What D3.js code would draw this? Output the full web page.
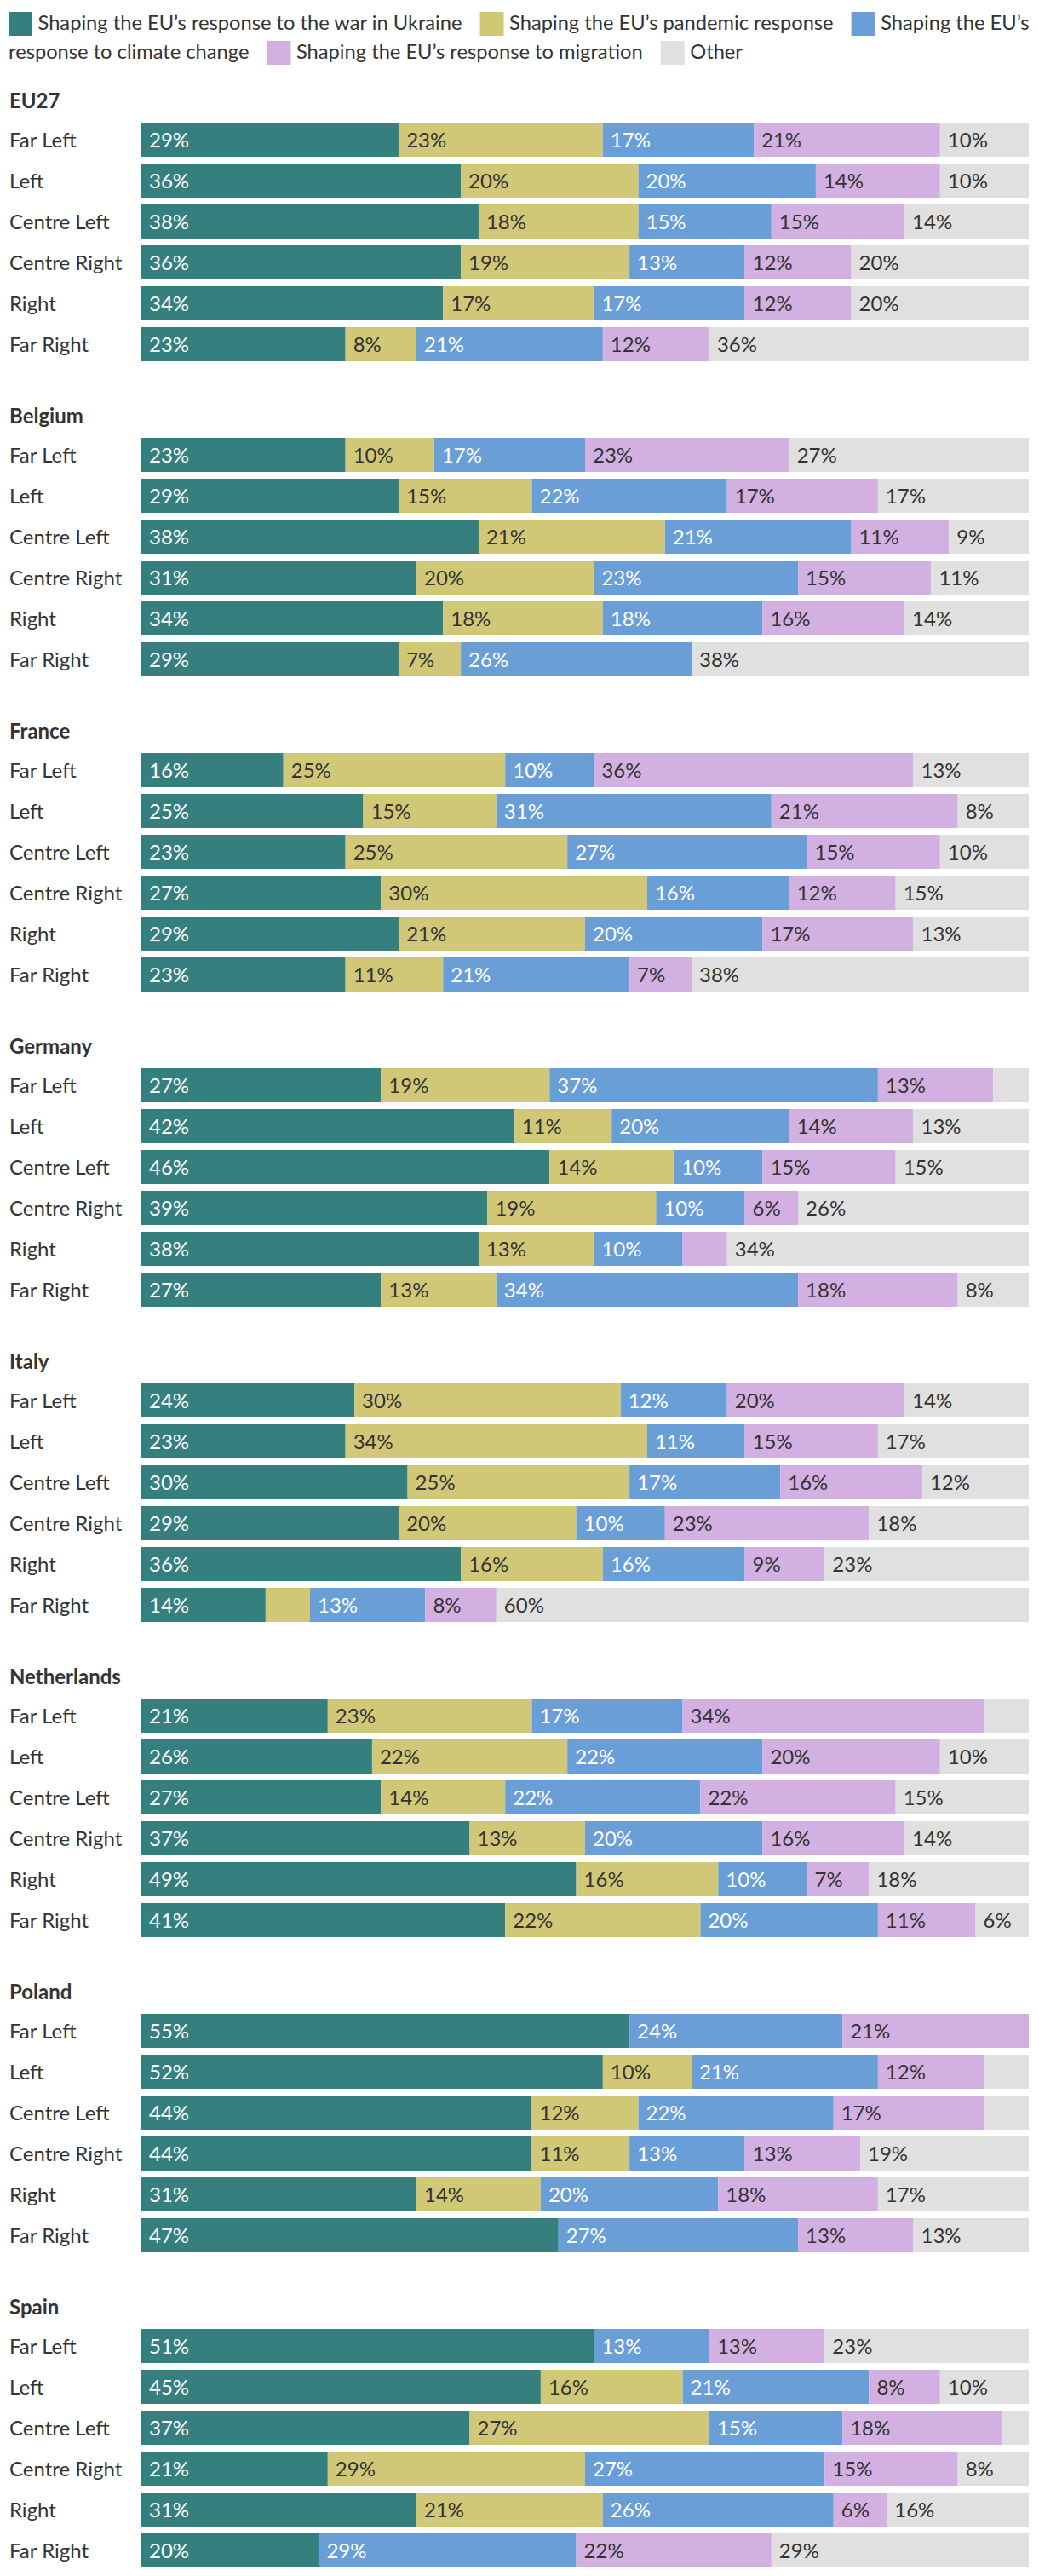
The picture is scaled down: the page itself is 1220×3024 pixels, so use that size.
<!DOCTYPE html>
<html>
<head>
<meta charset="utf-8">
<script src="https://cdn.jsdelivr.net/npm/d3@7"></script>
<style>
  html, body { margin: 0; padding: 0; background: #fff; }
  svg { display: block; font-family: Lato, "Noto Sans", sans-serif; }
</style>
</head>
<body>
<svg id="chart" width="1220" height="3024"></svg>
<script>
// ---------- data ----------
const seriesNames = [
  "Shaping the EU\u2019s response to the war in Ukraine",
  "Shaping the EU\u2019s pandemic response",
  "Shaping the EU\u2019s response to climate change",
  "Shaping the EU\u2019s response to migration",
  "Other"
];
const seriesColors = ["#35807f", "#d1c877", "#6a9ed7", "#d2b0e2", "#e0e0e0"];
const labelColors  = ["#ffffff", "#333333", "#ffffff", "#333333", "#333333"];

const ideologies = ["Far Left", "Left", "Centre Left", "Centre Right", "Right", "Far Right"];
const countries = ["EU27", "Belgium", "France", "Germany", "Italy", "Netherlands", "Poland", "Spain"];

// each row: [Ukraine, pandemic, climate, migration, other] in %
const eu27 = [
  [29, 23, 17, 21, 10],
  [36, 20, 20, 14, 10],
  [38, 18, 15, 15, 14],
  [36, 19, 13, 12, 20],
  [34, 17, 17, 12, 20],
  [23, 8, 21, 12, 36]
];
const belgium = [
  [23, 10, 17, 23, 27],
  [29, 15, 22, 17, 17],
  [38, 21, 21, 11, 9],
  [31, 20, 23, 15, 11],
  [34, 18, 18, 16, 14],
  [29, 7, 26, 0, 38]
];
const france = [
  [16, 25, 10, 36, 13],
  [25, 15, 31, 21, 8],
  [23, 25, 27, 15, 10],
  [27, 30, 16, 12, 15],
  [29, 21, 20, 17, 13],
  [23, 11, 21, 7, 38]
];
const germany = [
  [27, 19, 37, 13, 4],
  [42, 11, 20, 14, 13],
  [46, 14, 10, 15, 15],
  [39, 19, 10, 6, 26],
  [38, 13, 10, 5, 34],
  [27, 13, 34, 18, 8]
];
const italy = [
  [24, 30, 12, 20, 14],
  [23, 34, 11, 15, 17],
  [30, 25, 17, 16, 12],
  [29, 20, 10, 23, 18],
  [36, 16, 16, 9, 23],
  [14, 5, 13, 8, 60]
];
const netherlands = [
  [21, 23, 17, 34, 5],
  [26, 22, 22, 20, 10],
  [27, 14, 22, 22, 15],
  [37, 13, 20, 16, 14],
  [49, 16, 10, 7, 18],
  [41, 22, 20, 11, 6]
];
const poland = [
  [55, 0, 24, 21, 0],
  [52, 10, 21, 12, 5],
  [44, 12, 22, 17, 5],
  [44, 11, 13, 13, 19],
  [31, 14, 20, 18, 17],
  [47, 0, 27, 13, 13]
];
const spain = [
  [51, 0, 13, 13, 23],
  [45, 16, 21, 8, 10],
  [37, 27, 15, 18, 3],
  [21, 29, 27, 15, 8],
  [31, 21, 26, 6, 16],
  [20, 0, 29, 22, 29]
];
const countryData = [eu27, belgium, france, germany, italy, netherlands, poland, spain];

const svg = d3.select("#chart");

// ---------- legend (word-wrapped in SVG) ----------
const LEG_FS = 23.7, LEG_LH = 34, LEG_X0 = 10, LEG_MAX = 1218, SW = 28;
const measurer = svg.append("text").attr("font-size", LEG_FS).attr("x", -5000).attr("y", -100);
const measure = s => { measurer.text(s); return measurer.node().getComputedTextLength(); };
const legend = svg.append("g").attr("class", "legend");
let cx = LEG_X0, line = 0;
const lineTop = l => 14 + l * LEG_LH;
seriesNames.forEach((name, i) => {
  if (cx + SW > LEG_MAX) { line++; cx = LEG_X0; }
  legend.append("rect").attr("x", cx).attr("y", lineTop(line)).attr("width", SW).attr("height", SW).attr("fill", seriesColors[i]);
  cx += SW + 6.5;
  const words = name.split(" ");
  let run = "", runX = cx;
  words.forEach(w => {
    const cand = run ? run + " " + w : w;
    if (run && runX + measure(cand) > LEG_MAX) {
      legend.append("text").attr("x", runX).attr("y", lineTop(line) + 21).attr("font-size", LEG_FS).attr("fill", "#333").text(run);
      line++; runX = LEG_X0; run = w;
    } else run = cand;
  });
  legend.append("text").attr("x", runX).attr("y", lineTop(line) + 21).attr("font-size", LEG_FS).attr("fill", "#333").text(run);
  cx = runX + measure(run) + 21;
});
measurer.remove();

// ---------- chart ----------
const FS = 24;
const x = d3.scaleLinear().domain([0, 100]).range([166, 1208]);
const gy = d3.scaleBand().domain(countries).range([144, 144 + countries.length * 370]).padding(0);
const ry = d3.scaleBand().domain(ideologies).range([0, 280]).paddingInner(1 / 6).paddingOuter(0);

const groups = svg.selectAll("g.country")
  .data(countries.map((c, i) => ({ name: c, rows: countryData[i] })))
  .join("g")
  .attr("class", "country")
  .attr("transform", d => `translate(0,${gy(d.name)})`);

groups.append("text")
  .attr("x", 11).attr("y", -17)
  .attr("font-size", FS).attr("font-weight", 700)
  .attr("fill", "#333")
  .text(d => d.name);

const rows = groups.selectAll("g.row")
  .data(d => d.rows.map((vals, i) => ({ ideology: ideologies[i], vals })))
  .join("g")
  .attr("class", "row")
  .attr("transform", d => `translate(0,${ry(d.ideology)})`);

rows.append("text")
  .attr("x", 11).attr("y", ry.bandwidth() / 2 + 8.5)
  .attr("font-size", FS).attr("fill", "#333")
  .text(d => d.ideology);

const segs = rows.selectAll("g.seg")
  .data(d => {
    let acc = 0;
    return d.vals.map((v, k) => { const s = acc; acc += v; return { k, v, s, e: acc }; });
  })
  .join("g").attr("class", "seg");

segs.filter(d => d.v > 0).append("rect")
  .attr("x", d => x(d.s))
  .attr("width", d => x(d.e) - x(d.s))
  .attr("y", 0).attr("height", ry.bandwidth())
  .attr("fill", d => seriesColors[d.k]);

segs.filter(d => d.v >= 6).append("text")
  .attr("x", d => x(d.s) + 9)
  .attr("y", ry.bandwidth() / 2 + 8.5)
  .attr("font-size", FS)
  .attr("fill", d => labelColors[d.k])
  .text(d => d.v + "%");
</script>
</body>
</html>
